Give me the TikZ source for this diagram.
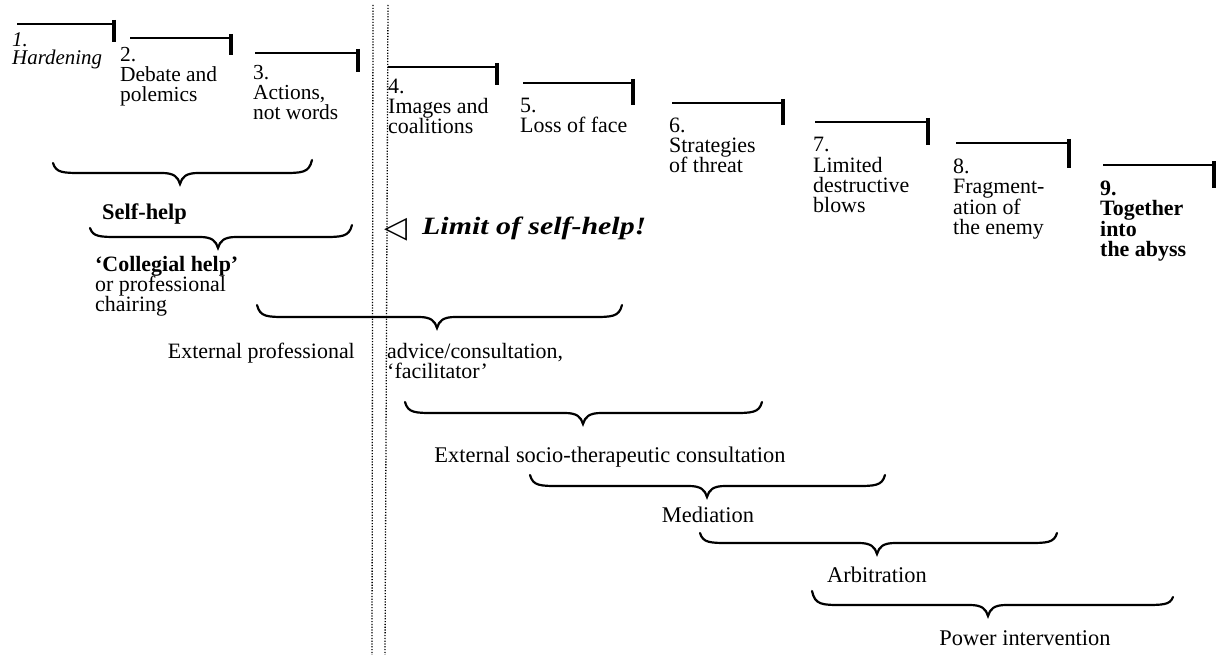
\documentclass[tikz,border=0pt]{standalone}
\usepackage{fontspec}
\setmainfont{Liberation Serif}
\newfontfamily\widefont[FakeStretch=1.2]{Liberation Serif}
\newfontfamily\symfont{DejaVu Sans}
\newcommand{\tightls}{\lineskiplimit -100pt\relax}
\newcommand{\brc}[6]{%
  \draw[bracestyle] (#1,#2) .. controls (#1+3,#5) and (#1+10,#5) .. (#1+30,#5)
    -- (#6-18,#5) .. controls (#6-6,#5) and (#6-2,#5+4) .. (#6,#5+11)
    .. controls (#6+2,#5+4) and (#6+6,#5) .. (#6+18,#5)
    -- (#3-30,#5) .. controls (#3-10,#5) and (#3-3,#5) .. (#3,#4);}
\newcommand{\stagebar}[4]{%
  \draw[barline] (#1,#3) -- (#2,#3);
  \draw[tickline] (#2,#3-4) -- (#2,#4);}
\begin{document}
\begin{tikzpicture}[x=1bp,y=-1bp,
  lbl/.style={inner sep=0pt, align=left, anchor=base west, font=\fontsize{22}{19.5}\selectfont},
  bracestyle/.style={line width=2.2bp, line cap=round},
  barline/.style={line width=2.2bp},
  tickline/.style={line width=4.5bp},
  dotline/.style={line width=1.3bp, dash pattern=on 1.2bp off 1.6bp}]
\useasboundingbox[fill=white] (0,0) rectangle (1218,655);
% dotted separator
\draw[dotline] (373,5) -- (372,655);
\draw[dotline] (388,5) -- (385,655);
% stage bars
\stagebar{17}{114}{24}{42}
\stagebar{130}{231}{38}{55}
\stagebar{255}{358}{53}{72}
\stagebar{388}{497}{67}{85}
\stagebar{523}{633}{83}{105}
\stagebar{672}{783}{103}{125}
\stagebar{815}{928}{122}{145}
\stagebar{956}{1069}{143}{168}
\stagebar{1103}{1214}{165}{188}
% stage labels (anchored at the baseline of the last line)
\node[lbl, font=\fontsize{21}{19}\selectfont\tightls\itshape] (s1) at (12,65) {1.\\Hardening};
\node[lbl, font=\fontsize{21.5}{20.5}\selectfont\tightls] (s2) at (120,102) {2.\\Debate and\\polemics};
\node[lbl, font=\fontsize{21.5}{20.5}\selectfont\tightls] (s3) at (253,120) {3.\\Actions,\\not words};
\node[lbl, font=\fontsize{22}{20.5}\selectfont\tightls] (s4) at (388,134) {4.\\Images and\\coalitions};
\node[lbl, font=\fontsize{22}{20.5}\selectfont\tightls] (s5) at (520,133) {5.\\Loss of face};
\node[lbl, font=\fontsize{22}{20.5}\selectfont\tightls] (s6) at (669,173) {6.\\Strategies\\of threat};
\node[lbl, font=\fontsize{22}{20.5}\selectfont\tightls] (s7) at (813,213) {7.\\Limited\\destructive\\blows};
\node[lbl, font=\fontsize{22}{20.5}\selectfont\tightls] (s8) at (953,234.5) {8.\\Fragment-\\ation of\\the enemy};
\node[lbl, font=\fontsize{22}{20.5}\selectfont\tightls\bfseries] (s9) at (1100,256.5) {9.\\Together\\into\\the abyss};
% braces
\brc{53}{163}{312}{160}{173}{180}
\brc{90}{228}{352}{225}{237}{218}
\brc{257}{305}{622}{305}{317}{437}
\brc{405}{402}{762}{402}{413}{583}
\brc{530}{475}{885}{475}{486}{707}
\brc{700}{533}{1057}{533}{543}{877}
\brc{812}{591}{1173}{597}{605}{988}
% help labels
\node[lbl, font=\fontsize{22.5}{19.5}\selectfont\bfseries] (selfhelp) at (102,220) {Self-help};
\node[lbl, font=\fontsize{22}{20}\selectfont\tightls] (collegial) at (95,311) {\textbf{‘Collegial help’}\\or professional\\chairing};
\node[lbl, anchor=base east] (extprof) at (355,358) {External professional};
\node[lbl, font=\fontsize{22}{20.5}\selectfont\tightls] (advice) at (387,378.5) {advice/consultation,\\‘facilitator’};
\node[lbl, font=\fontsize{22.5}{19.5}\selectfont, anchor=base] (socio) at (610,462) {External socio-therapeutic consultation};
\node[lbl, font=\fontsize{22.5}{19.5}\selectfont, anchor=base] (mediation) at (708,522) {Mediation};
\node[lbl, font=\fontsize{22.5}{19.5}\selectfont, anchor=base] (arbitration) at (877,582) {Arbitration};
\node[lbl, font=\fontsize{22.5}{19.5}\selectfont, anchor=base] (power) at (1025,645) {Power intervention};
% limit of self-help
\node[lbl, font=\fontsize{30}{30}\symfont] (tri) at (384,238) {◁};
\node[lbl, font=\fontsize{25}{25}\widefont\bfseries\itshape] (limit) at (422,235) {Limit of self-help!};
\end{tikzpicture}
\end{document}
